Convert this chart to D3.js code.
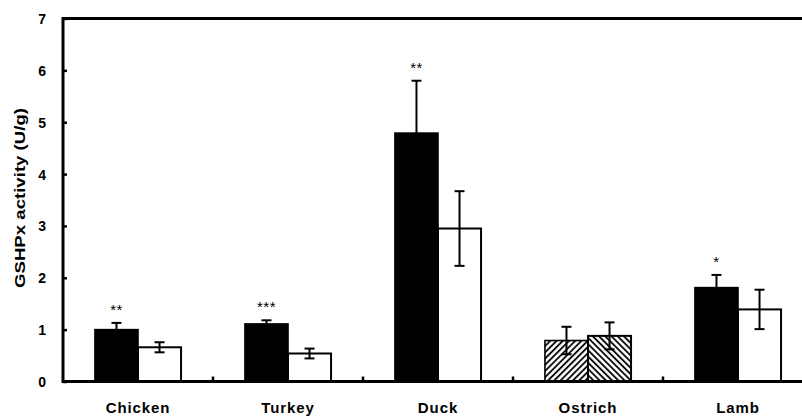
<!DOCTYPE html>
<html>
<head>
<meta charset="utf-8">
<script src="https://cdn.jsdelivr.net/npm/d3@7"></script>
<style>
  html, body { margin: 0; padding: 0; background: #fff; }
  svg { display: block; }
  text { font-family: "Liberation Sans", Arial, sans-serif; fill: #000; }
</style>
</head>
<body>
<svg id="chart" width="802" height="416"></svg>
<script>
// Meat types and GSHPx activity (U/g): two groups per meat, mean and SD
const categories = ["Chicken", "Turkey", "Duck", "Ostrich", "Lamb"];
const groupA = [1.00, 1.11, 4.79, 0.79, 1.81];
const groupAErr = [0.13, 0.07, 1.01, 0.265, 0.245];
const groupB = [0.66, 0.54, 2.95, 0.88, 1.39];
const groupBErr = [0.097, 0.095, 0.72, 0.26, 0.38];
const significance = ["**", "***", "**", "", "*"];
const yTicks = [0, 1, 2, 3, 4, 5, 6, 7];
const yTitle = "GSHPx activity (U/g)";

const svg = d3.select("#chart");

const plotLeft = 63, plotRight = 813, plotTop = 18.5, plotBottom = 381.5;

const x = d3.scaleBand().domain(categories).range([plotLeft, plotRight]).padding(0);
const y = d3.scaleLinear().domain([0, 7]).range([plotBottom, plotTop]);
const barW = x.bandwidth() * 0.287;

// hatch patterns for the ostrich pair
const defs = svg.append("defs");
function hatch(id, angle) {
  const p = defs.append("pattern")
    .attr("id", id)
    .attr("patternUnits", "userSpaceOnUse")
    .attr("width", 4.4).attr("height", 4.4)
    .attr("patternTransform", `rotate(${angle})`);
  p.append("rect").attr("width", 4.4).attr("height", 4.4).attr("fill", "#fff");
  p.append("line").attr("x1", 1).attr("x2", 1).attr("y1", 0).attr("y2", 4.4)
    .attr("stroke", "#000").attr("stroke-width", 1.8);
}
hatch("hatchFwd", 45);
hatch("hatchBack", -45);

const rows = categories.map((c, i) => ({
  cat: c,
  a: groupA[i], aErr: groupAErr[i],
  b: groupB[i], bErr: groupBErr[i],
  sig: significance[i]
}));

const center = d => x(d.cat) + x.bandwidth() / 2;
const hatched = d => d.cat === "Ostrich";

const g = svg.append("g");

// group A bars (left of each pair)
g.selectAll("rect.a").data(rows).join("rect")
  .attr("class", "a")
  .attr("x", d => center(d) - barW)
  .attr("y", d => y(d.a))
  .attr("width", barW)
  .attr("height", d => y(0) - y(d.a))
  .attr("fill", d => hatched(d) ? "url(#hatchFwd)" : "#000")
  .attr("stroke", "#000").attr("stroke-width", 1.6);

// group B bars (right of each pair)
g.selectAll("rect.b").data(rows).join("rect")
  .attr("class", "b")
  .attr("x", d => center(d))
  .attr("y", d => y(d.b))
  .attr("width", barW)
  .attr("height", d => y(0) - y(d.b))
  .attr("fill", d => hatched(d) ? "url(#hatchBack)" : "#fff")
  .attr("stroke", "#000").attr("stroke-width", 2);

// error bars
function errorBars(cls, xPos, val, err) {
  const eg = g.selectAll("g." + cls).data(rows).join("g").attr("class", cls)
    .attr("stroke", "#000").attr("stroke-width", 2);
  eg.append("line")
    .attr("x1", xPos).attr("x2", xPos)
    .attr("y1", d => y(val(d) + err(d))).attr("y2", d => y(val(d) - err(d)));
  [1, -1].forEach(s => {
    eg.append("line")
      .attr("x1", d => xPos(d) - 5).attr("x2", d => xPos(d) + 5)
      .attr("y1", d => y(val(d) + s * err(d))).attr("y2", d => y(val(d) + s * err(d)));
  });
}
errorBars("errA", d => center(d) - barW / 2, d => d.a, d => d.aErr);
errorBars("errB", d => center(d) + barW / 2, d => d.b, d => d.bErr);

// significance stars above group A
g.selectAll("text.sig").data(rows).join("text")
  .attr("class", "sig")
  .attr("x", d => center(d) - barW / 2)
  .attr("y", d => y(d.a + d.aErr) - 8)
  .attr("text-anchor", "middle")
  .attr("font-size", 15)
  .attr("letter-spacing", 0.5)
  .text(d => d.sig);

// frame: left axis, top line, baseline
const axisG = svg.append("g").attr("stroke", "#000").attr("stroke-width", 3).attr("fill", "none");
axisG.append("line").attr("x1", plotLeft).attr("x2", plotLeft).attr("y1", plotTop - 1.5).attr("y2", plotBottom + 1.5);
axisG.append("line").attr("x1", plotLeft).attr("x2", 802).attr("y1", plotTop).attr("y2", plotTop);
axisG.append("line").attr("x1", plotLeft).attr("x2", 802).attr("y1", plotBottom).attr("y2", plotBottom);

// y axis ticks and labels
const yAxis = d3.axisLeft(y).tickValues(yTicks).tickSizeInner(-4).tickSizeOuter(0).tickPadding(17).tickFormat(d3.format("d"));
const ya = svg.append("g").attr("transform", `translate(${plotLeft},0)`).call(yAxis);
ya.select(".domain").remove();
ya.selectAll(".tick line").attr("stroke", "#000").attr("stroke-width", 2.5);
ya.selectAll(".tick text")
  .attr("font-family", "Liberation Sans, Arial, sans-serif")
  .attr("font-size", 14).attr("font-weight", "bold").attr("fill", "#000")
  .attr("dy", "0.36em");

// category separators on the baseline
const seps = categories.slice(1).map(c => x(c));
svg.append("g").selectAll("line").data(seps).join("line")
  .attr("x1", d => d).attr("x2", d => d)
  .attr("y1", plotBottom).attr("y2", plotBottom - 5)
  .attr("stroke", "#000").attr("stroke-width", 2.5);

// category labels
svg.append("g").selectAll("text").data(categories).join("text")
  .attr("x", c => x(c) + x.bandwidth() / 2)
  .attr("y", 413)
  .attr("text-anchor", "middle")
  .attr("font-size", 15).attr("font-weight", "bold")
  .attr("letter-spacing", 0.9)
  .text(c => c);

// y axis title
svg.append("text")
  .attr("transform", "translate(25,198) rotate(-90)")
  .attr("text-anchor", "middle")
  .attr("font-size", 15).attr("font-weight", "bold")
  .attr("textLength", 180).attr("lengthAdjust", "spacingAndGlyphs")
  .text(yTitle);
</script>
</body>
</html>
